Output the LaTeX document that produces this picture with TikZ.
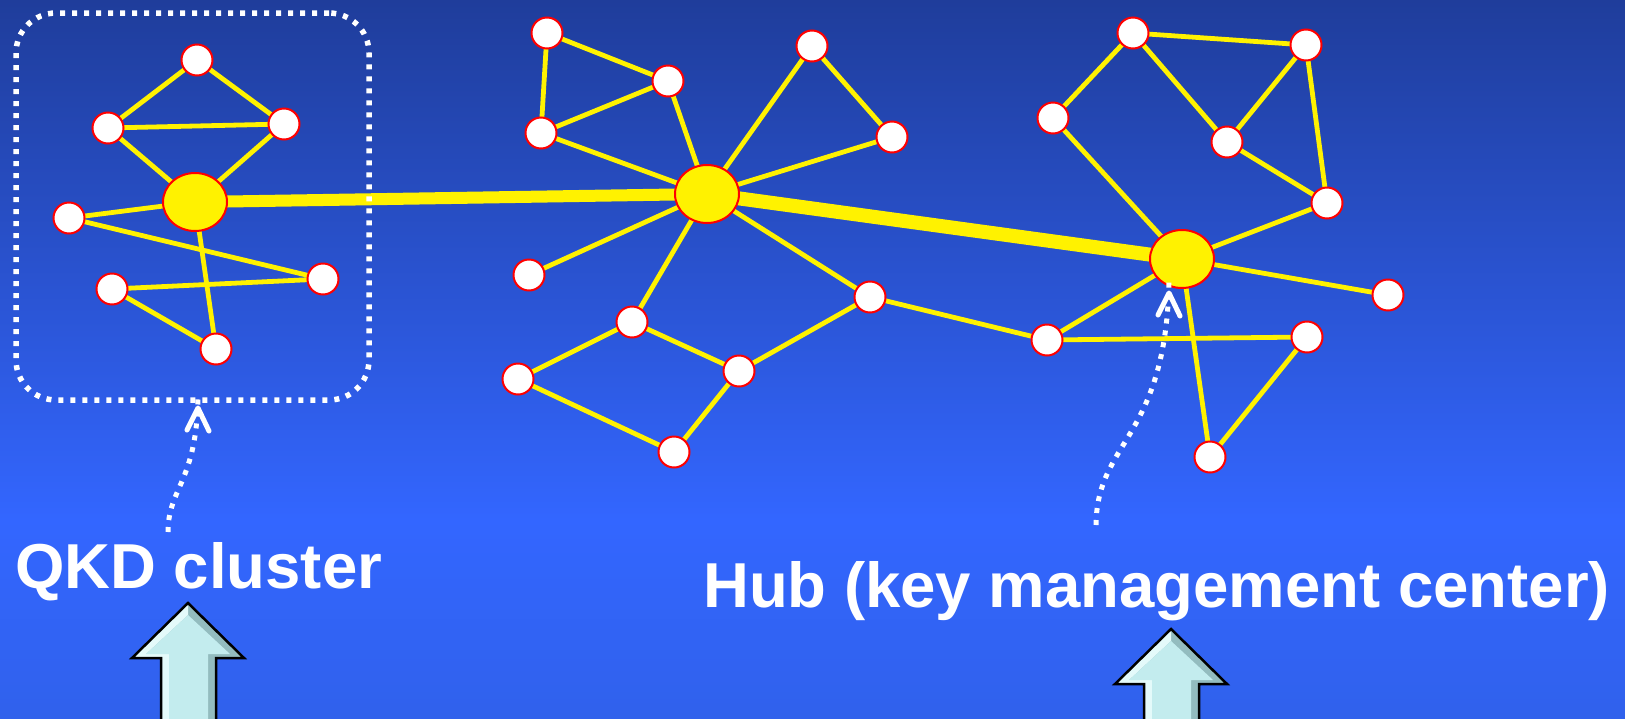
\documentclass[tikz,border=0pt]{standalone}
\usepackage{fontspec}
\setmainfont{Liberation Sans}
\usetikzlibrary{shapes.geometric}
\pgfdeclarelayer{bglayer}
\pgfdeclarelayer{edgelayer}
\pgfsetlayers{bglayer,edgelayer,main}
\definecolor{bgtop}{HTML}{1F3D9B}
\definecolor{bgmid}{HTML}{3366FF}
\definecolor{bgbot}{HTML}{3061EC}
\definecolor{arrowface}{HTML}{C3ECEE}
\definecolor{arrowlight}{HTML}{E4FAFA}
\definecolor{arrowdark}{HTML}{93BCBF}
\tikzset{
  small/.style={circle, draw=red, line width=2pt, fill=white, minimum size=31pt, inner sep=0pt},
  hub/.style={ellipse, draw=red, line width=2pt, fill=yellow, minimum width=64pt, minimum height=58pt, inner sep=0pt},
  link/.style={yellow, line width=4.8pt},
  trunk/.style={yellow, line width=12pt},
  pointer/.style={white, line width=5pt, dash pattern=on 5pt off 7pt},
  chevron/.style={white, line width=5pt, line cap=round, line join=round},
  label/.style={text=white, font=\bfseries\fontsize{63.5}{70}\selectfont, inner sep=0pt, anchor=base west},
}
\newcommand\myblockarrow[2]{%
  \begin{scope}[shift={(#1,#2)}]
    \fill[arrowdark] (0,0) -- (56,55) -- (28,55) -- (28,118) -- (-27,118) -- (-27,55) -- (-56,55) -- cycle;
    \fill[arrowlight] (0,0) -- (-56,55) -- (-27,55) -- (-27,118) -- (-19,118) -- (-19,51) -- (-42,51) -- (0,12) -- cycle;
    \fill[arrowface] (0,12) -- (42,51) -- (20,51) -- (20,118) -- (-19,118) -- (-19,51) -- (-42,51) -- cycle;
    \draw[black, line width=2.5pt, line join=miter] (-27,118) -- (-27,55) -- (-56,55) -- (0,0) -- (56,55) -- (28,55) -- (28,118);
  \end{scope}}
\begin{document}
\begin{tikzpicture}[x=1pt,y=-1pt]
\useasboundingbox (0,0) rectangle (1625,718);
\begin{pgfonlayer}{bglayer}
  \shade[top color=bgtop, bottom color=bgmid] (0,0) rectangle (1625,520);
  \shade[top color=bgmid, bottom color=bgbot] (0,519) rectangle (1625,718);
\end{pgfonlayer}

% cluster 1
\node[hub] (h1) at (195,202) {};
\node[small] (a1) at (197,60) {};
\node[small] (a2) at (108,128) {};
\node[small] (a3) at (284,124) {};
\node[small] (a4) at (69,218) {};
\node[small] (a5) at (323,279) {};
\node[small] (a6) at (112,289) {};
\node[small] (a7) at (216,349) {};

% cluster 2
\node[hub] (h2) at (707,194) {};
\node[small] (b1) at (547,33) {};
\node[small] (b2) at (668,81) {};
\node[small] (b3) at (541,133) {};
\node[small] (b4) at (812,46) {};
\node[small] (b5) at (892,137) {};
\node[small] (b6) at (529,275) {};
\node[small] (b7) at (632,322) {};
\node[small] (b8) at (870,297) {};
\node[small] (b9) at (518,379) {};
\node[small] (b10) at (739,371) {};
\node[small] (b11) at (674,452) {};

% cluster 3
\node[hub] (h3) at (1182,259) {};
\node[small] (c1) at (1133,33) {};
\node[small] (c2) at (1306,45) {};
\node[small] (c3) at (1053,118) {};
\node[small] (c4) at (1227,142) {};
\node[small] (c5) at (1327,203) {};
\node[small] (c6) at (1388,295) {};
\node[small] (c7) at (1047,340) {};
\node[small] (c8) at (1307,337) {};
\node[small] (c9) at (1210,457) {};

\begin{pgfonlayer}{edgelayer}
  \foreach \u/\v in {a1/a2,a1/a3,a2/a3,a2/h1,a3/h1,a4/h1,a4/a5,a6/a5,a6/a7,h1/a7,
                     b1/b2,b1/b3,b2/b3,b3/h2,b2/h2,b4/h2,b4/b5,b5/h2,b6/h2,b7/h2,h2/b8,
                     b7/b9,b7/b10,b9/b11,b10/b11,b10/b8,b8/c7,
                     c1/c2,c1/c3,c1/c4,c2/c4,c2/c5,c4/c5,c3/h3,h3/c5,h3/c6,h3/c7,h3/c9,c7/c8,c8/c9}
    \draw[link] (\u.center) -- (\v.center);
  \draw[trunk, line width=12pt] (h1.center) -- (h2.center);
  \draw[trunk, line width=14pt] (h2.center) -- (h3.center);
\end{pgfonlayer}

% cluster frame
\node[draw=white, line width=5.5pt, dash pattern=on 5pt off 7pt, rounded corners=40pt,
      minimum width=353pt, minimum height=387pt, inner sep=0pt] (frame) at (192.5,206.5) {};

% labels
\node[label] (qkd) at (15,588) {QKD cluster};
\node[label] (hubtxt) at (703,607) {Hub (key management center)};

% dotted pointers with open heads
\coordinate (qkdstart) at (168,532);
\coordinate (qkdtip) at (198,408);
\coordinate (hubstart) at (1096,525);
\coordinate (hubtip) at (1169,293);
\draw[pointer] (qkdstart) .. controls (168,488) and (197,482) .. ([yshift=12pt]qkdtip);
\draw[chevron] ([shift={(-11,22)}]qkdtip) -- (qkdtip) -- ([shift={(11,23)}]qkdtip);
\draw[pointer] (hubstart) .. controls (1097,440) and (1166,440) .. ([yshift=12pt]hubtip);
\draw[chevron] ([shift={(-11,22)}]hubtip) -- (hubtip) -- ([shift={(11,23)}]hubtip);

% block arrows
\myblockarrow{188}{603}
\myblockarrow{1171}{629}
\end{tikzpicture}
\end{document}
